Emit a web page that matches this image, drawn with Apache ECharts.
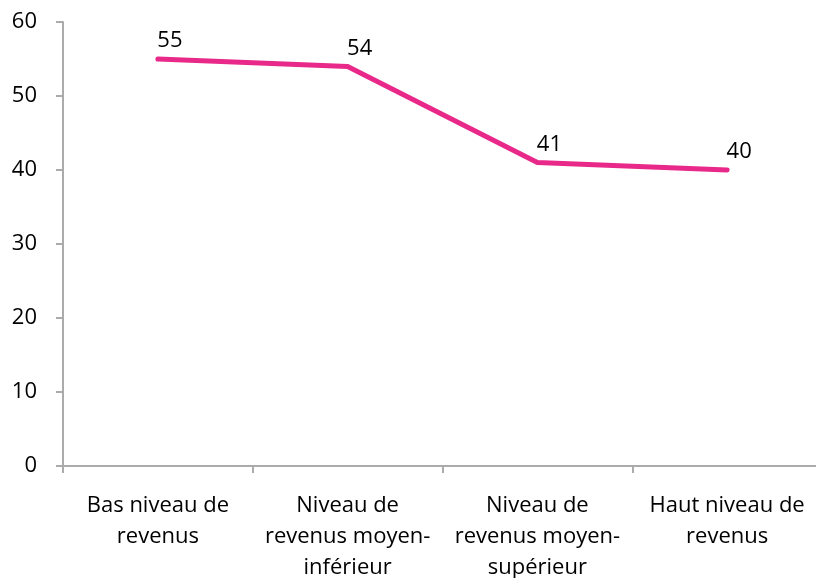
<!DOCTYPE html>
<html>
<head>
<meta charset="utf-8">
<script src="https://cdn.jsdelivr.net/npm/echarts@6/dist/echarts.min.js"></script>
<style>
  html, body { margin: 0; padding: 0; background: #fff; }
  #chart { width: 816px; height: 578px; }
</style>
</head>
<body>
<div id="chart"></div>
<script>
// Income groups along the horizontal axis
const categories = [
  'Bas niveau de\nrevenus',
  'Niveau de\nrevenus moyen-\ninférieur',
  'Niveau de\nrevenus moyen-\nsupérieur',
  'Haut niveau de\nrevenus'
];
// Values per income group
const values = [55, 54, 41, 40];
// Vertical axis scale
const yMin = 0;
const yMax = 60;
const yStep = 10;

const lineColor = '#e8298a';
const axisColor = '#ababab';
const textColor = '#000';
const fontFamily = '"Open Sans", "Noto Sans", sans-serif';

const chart = echarts.init(document.getElementById('chart'), null, { renderer: 'canvas' });
chart.setOption({
  animation: false,
  backgroundColor: '#fff',
  grid: {
    left: 63, right: -6, top: 22, bottom: 112,
    containLabel: false, outerBoundsMode: 'none'
  },
  xAxis: {
    type: 'category',
    data: categories,
    boundaryGap: true,
    axisLine: { lineStyle: { color: axisColor, width: 2 } },
    axisTick: { show: true, length: 7, alignWithLabel: false, lineStyle: { color: axisColor, width: 2 } },
    axisLabel: {
      color: textColor, fontFamily: fontFamily, fontSize: 22,
      lineHeight: 31, margin: 24, interval: 0
    },
    splitLine: { show: false }
  },
  yAxis: {
    type: 'value',
    min: yMin, max: yMax, interval: yStep,
    axisLine: { show: true, lineStyle: { color: axisColor, width: 2 } },
    axisTick: { show: true, length: 7, lineStyle: { color: axisColor, width: 2 } },
    axisLabel: { color: textColor, fontFamily: fontFamily, fontSize: 22, margin: 26 },
    splitLine: { show: false }
  },
  series: [{
    type: 'line',
    data: values,
    symbol: 'circle',
    symbolSize: 4,
    showSymbol: true,
    itemStyle: { color: lineColor, borderWidth: 0 },
    lineStyle: { color: lineColor, width: 5, cap: 'round', join: 'round' },
    label: {
      show: true, position: 'top', distance: 6, offset: [12, 1],
      color: textColor, fontFamily: fontFamily, fontSize: 22
    }
  }]
});
</script>
</body>
</html>
